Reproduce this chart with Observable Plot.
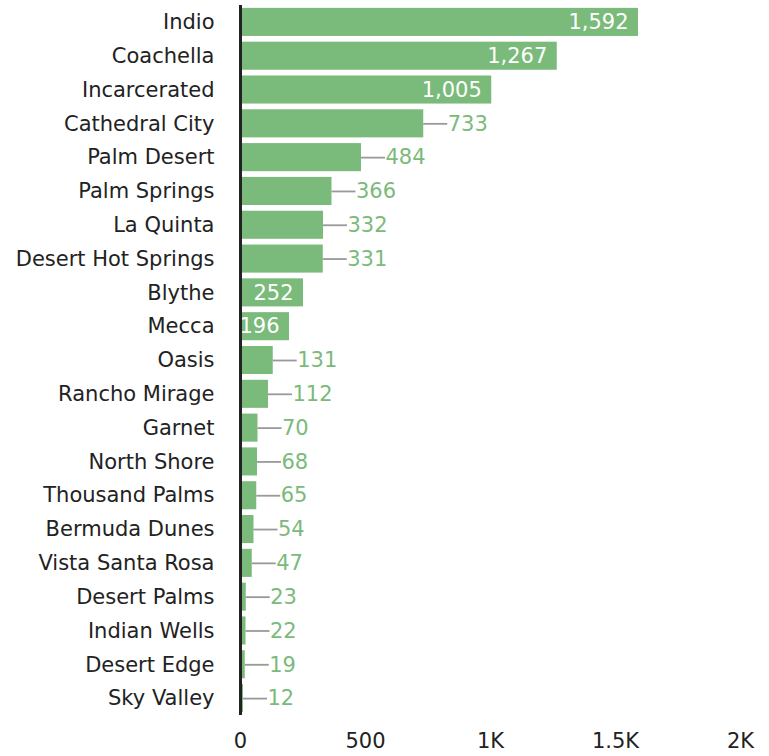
<!DOCTYPE html>
<html>
<head>
<meta charset="utf-8">
<script src="https://cdn.jsdelivr.net/npm/d3@7"></script>
<script src="https://cdn.jsdelivr.net/npm/@observablehq/plot@0.6"></script>
<style>
  html, body { margin: 0; padding: 0; background: #fff; }
  #chart svg { display: block; }
</style>
</head>
<body>
<div id="chart"></div>
<script>
const names = ["Indio","Coachella","Incarcerated","Cathedral City","Palm Desert","Palm Springs","La Quinta","Desert Hot Springs","Blythe","Mecca","Oasis","Rancho Mirage","Garnet","North Shore","Thousand Palms","Bermuda Dunes","Vista Santa Rosa","Desert Palms","Indian Wells","Desert Edge","Sky Valley"];
const values = [1592,1267,1005,733,484,366,332,331,252,196,131,112,70,68,65,54,47,23,22,19,12];
const insideLabels = ["Indio","Coachella","Incarcerated","Blythe","Mecca"];
const xTicks = [0,500,1000,1500,2000];
const xTickLabels = ["0","500","1K","1.5K","2K"];

const data = names.map((name, i) => ({name, value: values[i], inside: insideLabels.includes(name)}));
const inside = data.filter(d => d.inside);
const outside = data.filter(d => !d.inside);
const fmt = d3.format(",");
const green = "#7aba7a";
const leader = 24;
const fs = 21;

const chart = Plot.plot({
  width: 769,
  height: 756,
  marginLeft: 240,
  marginRight: 29,
  marginTop: 5,
  marginBottom: 41,
  style: {fontFamily: "'DejaVu Sans', Verdana, sans-serif", fontSize: fs + "px", color: "#222", background: "#fff"},
  x: {domain: [0, 2000], axis: null},
  y: {domain: names, paddingInner: 0.17, paddingOuter: 0.085, round: false, axis: null},
  marks: [
    Plot.barX(data, {x: "value", y: "name", fill: green}),
    Plot.ruleY(outside, {
      x1: "value", x2: "value", y: "name", stroke: "#999", strokeWidth: 1.8,
      render: (index, scales, values, dimensions, context, next) =>
        next(index, scales, {...values, x2: Float64Array.from(values.x2, v => v + leader)}, dimensions, context)
    }),
    Plot.text(outside, {x: "value", y: "name", text: d => fmt(d.value), dx: leader, textAnchor: "start", fill: green, fontSize: fs}),
    Plot.text(inside, {x: "value", y: "name", text: d => fmt(d.value), dx: -10, textAnchor: "end", fill: "white", fontSize: fs}),
    Plot.axisY({tickSize: 0, tickPadding: 26, fontSize: fs, fill: "#222", label: null}),
    Plot.axisX({ticks: xTicks, tickFormat: (d) => xTickLabels[xTicks.indexOf(d)], tickSize: 0, tickPadding: 18, fontSize: fs, fill: "#222", label: null}),
    Plot.ruleX([0], {stroke: "#222", strokeWidth: 3})
  ]
});
document.getElementById("chart").append(chart);
</script>
</body>
</html>
